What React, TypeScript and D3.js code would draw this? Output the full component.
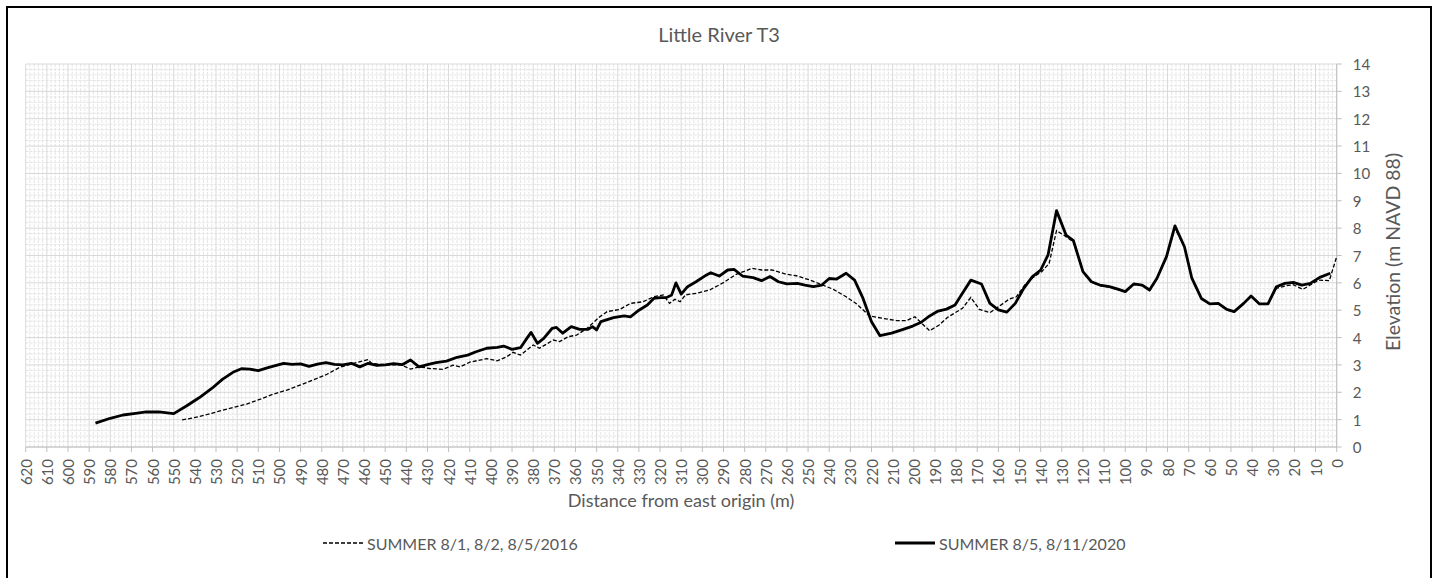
import React from 'react';
import * as d3 from 'd3';

// distance from east origin (m) and elevation (m NAVD 88)
const dist2016 = [546, 541, 534, 528, 522, 515.5, 509, 503, 496.5, 490, 484, 477.5, 471.5, 465, 458, 456.5, 452, 446, 442.5, 438, 433.5, 429, 422.5, 418, 414.5, 410, 402, 397, 392.5, 389.5, 386, 380, 377, 370.5, 367.5, 363.5, 359.5, 354.5, 348.5, 345, 339, 334, 328, 323, 318.5, 315.5, 313, 310.5, 308, 302.5, 296.5, 290, 284, 276.5, 272, 267, 260, 255.5, 249, 243, 238, 232, 227, 221, 214.5, 208, 203.5, 199.5, 196.5, 192.5, 188, 184, 177, 173, 169, 164, 159.5, 155, 151.5, 147.5, 143.5, 139.5, 136, 132.5, 128, 124.5, 120, 116, 112, 107.5, 103.5, 100, 96, 92, 88.5, 85, 80.5, 76.5, 72, 68.5, 64, 60, 56, 52, 48.5, 44, 40.5, 36.5, 32.5, 28.5, 23.5, 20.5, 16, 12.5, 8.5, 3.5, 0];
const elev2016 = [0.99, 1.06, 1.19, 1.32, 1.44, 1.57, 1.75, 1.93, 2.08, 2.27, 2.45, 2.66, 2.91, 3.06, 3.2, 3.06, 3.02, 3.0, 3.0, 2.85, 2.93, 2.87, 2.84, 2.99, 2.93, 3.1, 3.23, 3.15, 3.3, 3.46, 3.36, 3.73, 3.61, 3.91, 3.85, 4.03, 4.09, 4.34, 4.76, 4.95, 5.03, 5.25, 5.31, 5.49, 5.56, 5.25, 5.4, 5.31, 5.56, 5.62, 5.74, 6.01, 6.31, 6.53, 6.47, 6.47, 6.31, 6.26, 6.1, 5.92, 5.76, 5.49, 5.23, 4.79, 4.7, 4.62, 4.62, 4.76, 4.54, 4.25, 4.46, 4.74, 5.07, 5.47, 5.03, 4.91, 5.15, 5.4, 5.49, 5.92, 6.2, 6.41, 6.71, 7.91, 7.69, 7.5, 6.4, 6.02, 5.9, 5.84, 5.75, 5.68, 5.94, 5.9, 5.72, 6.15, 6.94, 8.0, 7.3, 6.15, 5.43, 5.22, 5.24, 5.02, 4.94, 5.24, 5.5, 5.22, 5.22, 5.8, 5.9, 5.93, 5.76, 5.92, 6.1, 6.08, 6.96];

const dist2020 = [587, 580, 574, 568, 563, 557, 550, 544, 538, 532, 527, 522, 518, 514, 510, 505, 498, 494, 490, 486, 482, 478, 474, 470, 466, 462, 458, 454, 450, 446, 442, 438, 434, 430, 426, 421, 416, 411, 407, 402, 397, 394, 390, 386, 383, 381, 378, 375, 371, 369, 366, 362, 358, 354, 352, 350, 348, 342, 337, 334, 330, 326, 323, 320, 317, 314.5, 312.5, 310, 307, 303, 298, 296, 292, 288, 285, 281, 276, 272, 268, 264, 260, 255, 251.5, 247.5, 243.5, 240, 236.5, 232, 228, 224, 220, 216, 210.5, 205, 200.5, 196.5, 192.5, 188.5, 184.5, 180.5, 177, 173, 168, 164, 160, 156, 152, 148, 144, 140, 136.5, 132.5, 128, 124.5, 120, 116, 112, 107.5, 103.5, 100, 96, 92, 88.5, 85, 80.5, 76.5, 72, 68.5, 64, 60, 56, 52, 48.5, 44, 40.5, 36.5, 32.5, 28.5, 24.5, 20.5, 16.5, 12.5, 8, 3];
const elev2020 = [0.87, 1.05, 1.17, 1.23, 1.28, 1.28, 1.22, 1.5, 1.8, 2.14, 2.47, 2.73, 2.86, 2.85, 2.79, 2.91, 3.06, 3.02, 3.04, 2.95, 3.03, 3.08, 3.02, 3.0, 3.06, 2.93, 3.06, 2.98, 3.0, 3.05, 3.01, 3.18, 2.93, 3.01, 3.08, 3.14, 3.28, 3.36, 3.48, 3.61, 3.64, 3.69, 3.57, 3.63, 3.97, 4.19, 3.79, 3.97, 4.34, 4.37, 4.16, 4.4, 4.3, 4.3, 4.4, 4.28, 4.58, 4.73, 4.79, 4.76, 5.0, 5.19, 5.43, 5.46, 5.46, 5.56, 6.0, 5.59, 5.86, 6.04, 6.29, 6.37, 6.25, 6.47, 6.49, 6.25, 6.19, 6.08, 6.23, 6.04, 5.96, 5.98, 5.92, 5.86, 5.92, 6.16, 6.14, 6.35, 6.1, 5.43, 4.58, 4.07, 4.16, 4.3, 4.42, 4.56, 4.79, 4.97, 5.04, 5.19, 5.62, 6.1, 5.96, 5.25, 5.01, 4.93, 5.25, 5.8, 6.22, 6.47, 7.02, 8.64, 7.75, 7.54, 6.41, 6.04, 5.92, 5.86, 5.77, 5.68, 5.96, 5.92, 5.74, 6.17, 6.96, 8.08, 7.32, 6.17, 5.43, 5.23, 5.25, 5.03, 4.95, 5.25, 5.52, 5.23, 5.23, 5.86, 5.98, 6.02, 5.92, 5.98, 6.2, 6.35];

const xTicks = d3.range(0, 621, 10);
const yTicks = d3.range(0, 15, 1);
const legendLabels = ['SUMMER 8/1, 8/2, 8/5/2016', 'SUMMER 8/5, 8/11/2020'];

const W = 1436;
const H = 578;
const plot = { left: 25.7, right: 1336.7, top: 64, bottom: 447 };
const font = 'Lato, "Open Sans", sans-serif';
const textColor = '#595959';
const legendY = 543;

export default function App() {
  const x = d3.scaleLinear().domain([620, 0]).range([plot.left, plot.right]);
  const y = d3.scaleLinear().domain([0, 14]).range([plot.bottom, plot.top]);

  const line = d3
    .line<[number, number]>()
    .x((d) => x(d[0]))
    .y((d) => y(d[1]));

  const s2016 = dist2016.map((d, i) => [d, elev2016[i]] as [number, number]);
  const s2020 = dist2020.map((d, i) => [d, elev2020[i]] as [number, number]);

  const minorX = d3.range(0, 621, 2).filter((v) => v % 10 !== 0);
  const minorY = d3.range(0, 71, 1).filter((v) => v % 5 !== 0).map((v) => v / 5);

  return (
    <svg width={W} height={H} style={{ position: 'absolute', left: 0, top: 0, background: '#fff' }}>
      <rect x={7} y={7} width={1424} height={572} fill="#fff" stroke="#000" strokeWidth={2} />

      <text x={719} y={42} textAnchor="middle" fontFamily={font} fontSize={20} fill={textColor}>
        Little River T3
      </text>

      {/* minor grid */}
      <g stroke="#e6e6e6" strokeWidth={1} strokeDasharray="3 1">
        {minorX.map((v) => (
          <line key={'mx' + v} x1={x(v)} x2={x(v)} y1={plot.top} y2={plot.bottom} />
        ))}
        {minorY.map((v) => (
          <line key={'my' + v} x1={plot.left} x2={plot.right} y1={y(v)} y2={y(v)} />
        ))}
      </g>
      {/* major grid */}
      <g stroke="#d9d9d9" strokeWidth={1}>
        {xTicks.map((v) => (
          <line key={'gx' + v} x1={x(v)} x2={x(v)} y1={plot.top} y2={plot.bottom} />
        ))}
        {yTicks.map((v) => (
          <line key={'gy' + v} x1={plot.left} x2={plot.right} y1={y(v)} y2={y(v)} />
        ))}
      </g>

      {/* axes */}
      <g stroke="#bfbfbf" strokeWidth={1}>
        <line x1={plot.left} x2={plot.right} y1={plot.bottom} y2={plot.bottom} />
        <line x1={plot.right} x2={plot.right} y1={plot.top} y2={plot.bottom} />
        {xTicks.map((v) => (
          <line key={'tx' + v} x1={x(v)} x2={x(v)} y1={plot.bottom} y2={plot.bottom + 5} />
        ))}
        {yTicks.map((v) => (
          <line key={'ty' + v} x1={plot.right} x2={plot.right + 5} y1={y(v)} y2={y(v)} />
        ))}
      </g>

      <g fontFamily={font} fontSize={15} fill={textColor}>
        {xTicks.map((v) => (
          <text
            key={'lx' + v}
            transform={`translate(${x(v)},${plot.bottom + 12}) rotate(-90)`}
            textAnchor="end"
            dominantBaseline="central"
          >
            {v}
          </text>
        ))}
        {yTicks.map((v) => (
          <text key={'ly' + v} x={plot.right + 16} y={y(v)} dominantBaseline="central">
            {v}
          </text>
        ))}
      </g>

      <text x={681} y={507} textAnchor="middle" fontFamily={font} fontSize={18} fill={textColor}>
        Distance from east origin (m)
      </text>
      <text
        transform="translate(1392,252) rotate(-90)"
        textAnchor="middle"
        dominantBaseline="central"
        fontFamily={font}
        fontSize={19.5}
        fill={textColor}
      >
        Elevation (m NAVD 88)
      </text>

      {/* series */}
      <path d={line(s2016) || ''} fill="none" stroke="#000" strokeWidth={1.3} strokeDasharray="4 2" />
      <path d={line(s2020) || ''} fill="none" stroke="#000" strokeWidth={2.8} strokeLinejoin="round" />

      {/* legend */}
      <line x1={323} x2={363} y1={legendY} y2={legendY} stroke="#000" strokeWidth={1.3} strokeDasharray="4 2" />
      <text x={367} y={legendY} dominantBaseline="central" fontFamily={font} fontSize={16} fill={textColor}>
        {legendLabels[0]}
      </text>
      <line x1={895} x2={935} y1={legendY} y2={legendY} stroke="#000" strokeWidth={2.8} />
      <text x={939} y={legendY} dominantBaseline="central" fontFamily={font} fontSize={16} fill={textColor}>
        {legendLabels[1]}
      </text>
    </svg>
  );
}
